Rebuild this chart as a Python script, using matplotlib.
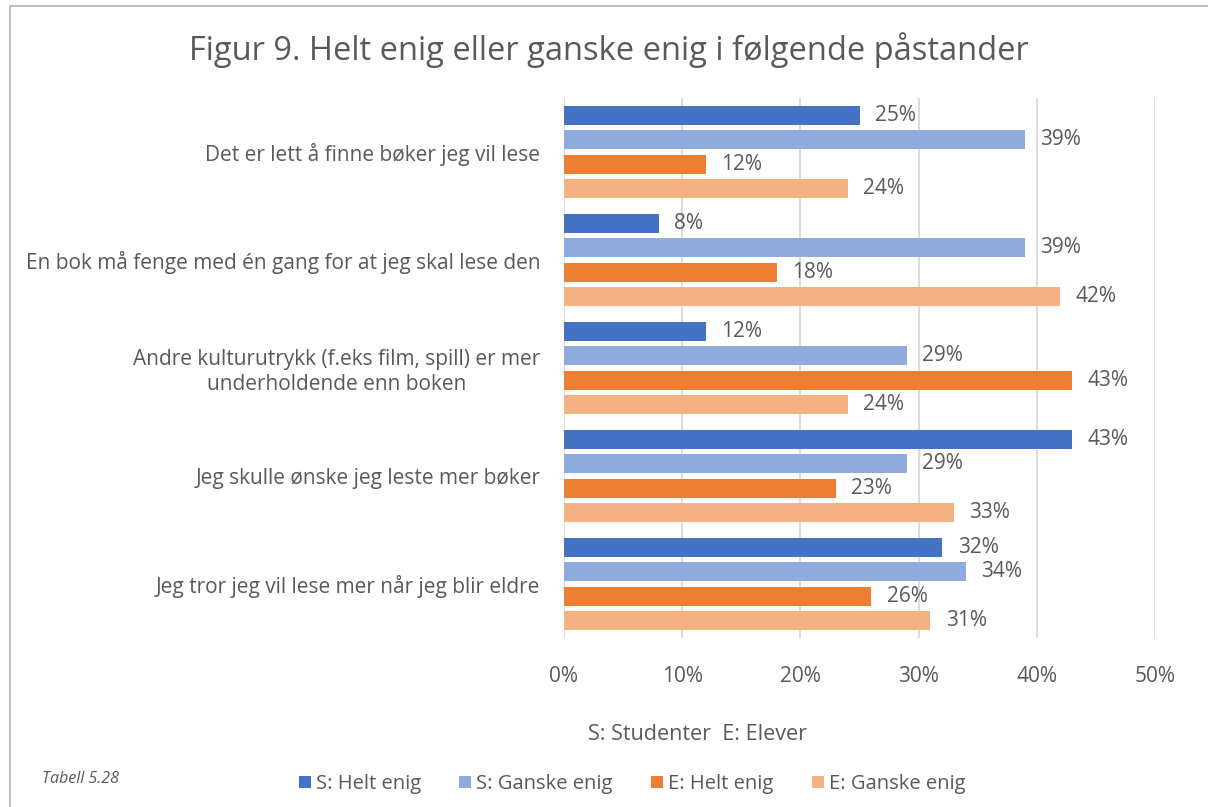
import matplotlib
matplotlib.use("Agg")
import matplotlib.pyplot as plt
from matplotlib.patches import Rectangle, Patch
import numpy as np

categories = [
    "Det er lett å finne bøker jeg vil lese",
    "En bok må fenge med én gang for at jeg skal lese den",
    "Andre kulturutrykk (f.eks film, spill) er mer\nunderholdende enn boken",
    "Jeg skulle ønske jeg leste mer bøker",
    "Jeg tror jeg vil lese mer når jeg blir eldre",
]
series_names = ["S: Helt enig", "S: Ganske enig", "E: Helt enig", "E: Ganske enig"]
s_helt = [25, 8, 12, 43, 32]
s_ganske = [39, 39, 29, 29, 34]
e_helt = [12, 18, 43, 23, 26]
e_ganske = [24, 42, 24, 33, 31]
xticks = [0, 10, 20, 30, 40, 50]

colors = ["#4472C4", "#8FAADC", "#ED7D31", "#F4B183"]
text_color = "#595959"
plt.rcParams['font.family'] = ['Open Sans', 'DejaVu Sans']

fig = plt.figure(figsize=(12.08, 8.07), dpi=100)
W, H = 1208, 807
ax = fig.add_axes([564 / W, 1 - 638 / H, (1155 - 564) / W, (638 - 98) / H])

series = [s_helt, s_ganske, e_helt, e_ganske]
y = np.arange(len(categories))
step = 0.227
h = 0.178
fs = 15
for k, (vals, c) in enumerate(zip(series, colors)):
    pos = y + (k - 1.5) * step
    ax.barh(pos, vals, height=h, color=c, zorder=3)
    for p, v in zip(pos, vals):
        ax.text(v + 1.3, p, f"{v}%", va="center", ha="left", fontsize=fs, color=text_color)

ax.set_ylim(4.5, -0.5)
ax.set_xlim(0, 50)
ax.set_xticks(xticks)
ax.set_xticklabels([f"{t}%" for t in xticks], fontsize=fs, color=text_color)
ax.set_yticks(y)
ax.set_yticklabels(categories, fontsize=fs, color=text_color, ha="right")
ax.tick_params(axis="both", length=0)
ax.tick_params(axis="x", pad=20)
ax.tick_params(axis="y", pad=17)
for lbl in ax.get_yticklabels():
    lbl.set_multialignment("center")
    lbl.set_linespacing(1.25)
for s in ax.spines.values():
    s.set_visible(False)
ax.grid(axis="x", color="#D9D9D9", linewidth=1.3, zorder=0)
ax.set_axisbelow(True)

fig.text(609 / W, 1 - 50 / H, "Figur 9. Helt enig eller ganske enig i følgende påstander",
         ha="center", va="center", fontsize=23.5, color=text_color)
fig.text(698 / W, 1 - 735 / H, "S: Studenter  E: Elever", ha="center", va="center",
         fontsize=15.5, color=text_color)
fig.text(42 / W, 1 - 779 / H, "Tabell 5.28", ha="left", va="center", fontsize=11.5,
         style="italic", color=text_color)

handles = [Patch(facecolor=c, edgecolor="none") for c in colors]
fig.legend(handles, series_names, loc="center", bbox_to_anchor=(632 / W, 1 - 784 / H),
           ncol=4, frameon=False, fontsize=14.5, labelcolor=text_color,
           handlelength=0.6, handleheight=0.6, handletextpad=0.25, columnspacing=1.9)

fig.patches.append(Rectangle((10 / W, -0.01), 1.1, 1 - 6 / H + 0.01, transform=fig.transFigure,
                             fill=False, edgecolor="#BFBFBF", linewidth=1.5))

fig.savefig("out.png", dpi=100)
